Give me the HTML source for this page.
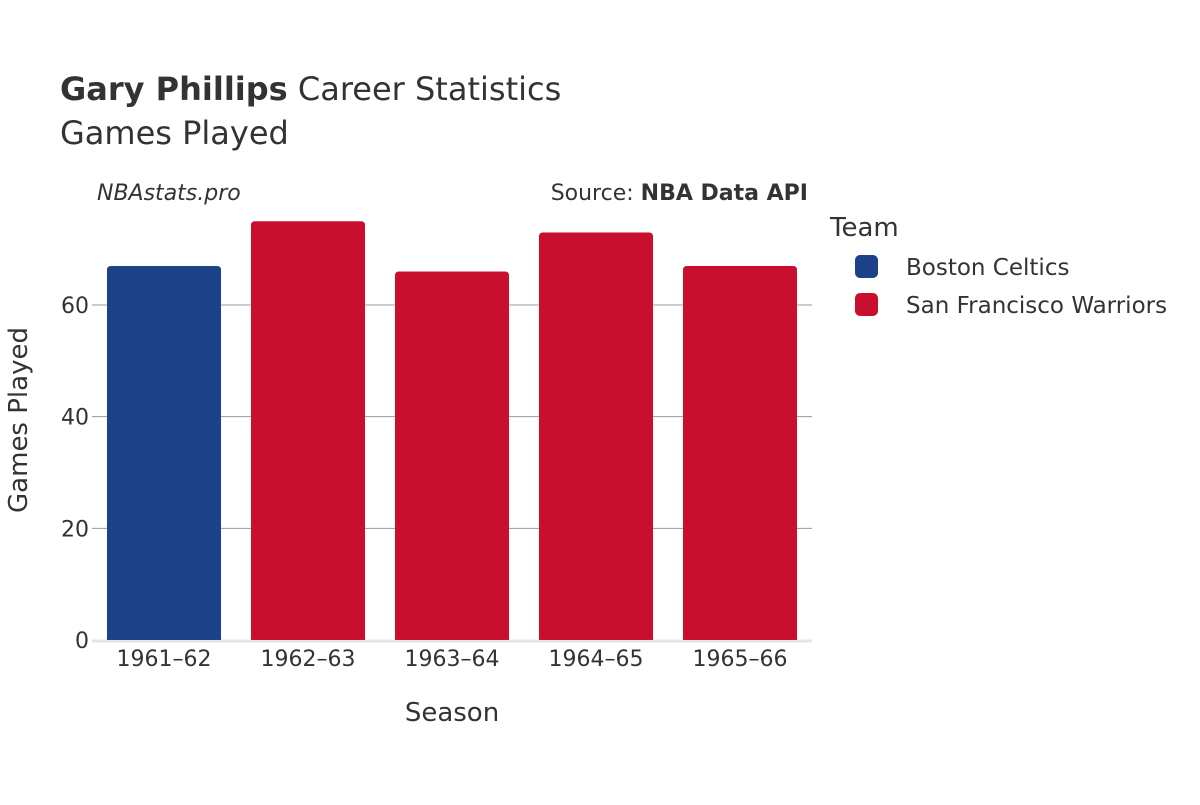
<!DOCTYPE html>
<html><head><meta charset="utf-8"><style>
body{margin:0;background:#fff;}
svg text{font-family:"DejaVu Sans","Liberation Sans",sans-serif;fill:#333;}
</style></head><body>
<svg width="1200" height="800" xmlns="http://www.w3.org/2000/svg">
<text x="60" y="100" font-size="32"><tspan font-weight="bold">Gary Phillips</tspan> Career Statistics</text>
<text x="60" y="144" font-size="32">Games Played</text>
<text x="97" y="200" font-size="22" font-style="italic">NBAstats.pro</text>
<text x="808" y="200" font-size="22" text-anchor="end">Source: <tspan font-weight="bold">NBA Data API</tspan></text>
<g id="grid"></g>
<g id="bars"></g>
<g id="yticks"></g>
<g id="xticks"></g>
<text x="452" y="721" font-size="26" text-anchor="middle">Season</text>
<text transform="translate(27,420) rotate(-90)" font-size="26" text-anchor="middle">Games Played</text>
<text x="830" y="236" font-size="26">Team</text>
<g>
<rect x="855" y="255" width="23" height="23" rx="5" fill="#1d428a"/>
<text x="906" y="275" font-size="23">Boston Celtics</text></g>
<g>
<rect x="855" y="293" width="23" height="23" rx="5" fill="#c8102e"/>
<text x="906" y="313" font-size="23">San Francisco Warriors</text></g>
</svg>
<script>
const seasons=["1961–62","1962–63","1963–64","1964–65","1965–66"];
const games=[67,75,66,73,67];
const teams=["Boston Celtics","San Francisco Warriors","San Francisco Warriors","San Francisco Warriors","San Francisco Warriors"];
const yTicks=[0,20,40,60];
const colors={"Boston Celtics":"#1d428a","San Francisco Warriors":"#c8102e"};
const NS="http://www.w3.org/2000/svg";
const x0=92,x1=812,y0=640,pxPer=5.583;
const y=v=>y0-v*pxPer;
const band=(x1-x0)/seasons.length;
const bx=i=>x0+i*band;
function mk(tag,attrs,parent){const e=document.createElementNS(NS,tag);for(const k in attrs)e.setAttribute(k,attrs[k]);document.getElementById(parent).appendChild(e);return e;}
yTicks.forEach(t=>{
  if(t>0){const l=mk("line",{x1:x0,x2:x1,y1:y(t),y2:y(t),stroke:"#999","stroke-width":1},"grid");
  
  }
  const tx=mk("text",{x:x0-3,y:y(t)+8,"font-size":22,"text-anchor":"end"},"yticks");
  tx.textContent=t;
  
  
});
const base=mk("line",{x1:x0,x2:x1,y1:y0+1,y2:y0+1,stroke:"#e5e5e5","stroke-width":3},"grid");


seasons.forEach((s,i)=>{
  const pad=15,w=band-2*pad,left=bx(i)+pad,top=y(games[i]),r=4;
  const d=`M${left},${y0}V${top+r}Q${left},${top} ${left+r},${top}H${left+w-r}Q${left+w},${top} ${left+w},${top+r}V${y0}Z`;
  const p=mk("path",{d:d,fill:colors[teams[i]]},"bars");
  
  
  const tx=mk("text",{x:bx(i)+band/2,y:666,"font-size":22,"text-anchor":"middle"},"xticks");
  tx.textContent=s;
  
  
});
</script>
</body></html>
